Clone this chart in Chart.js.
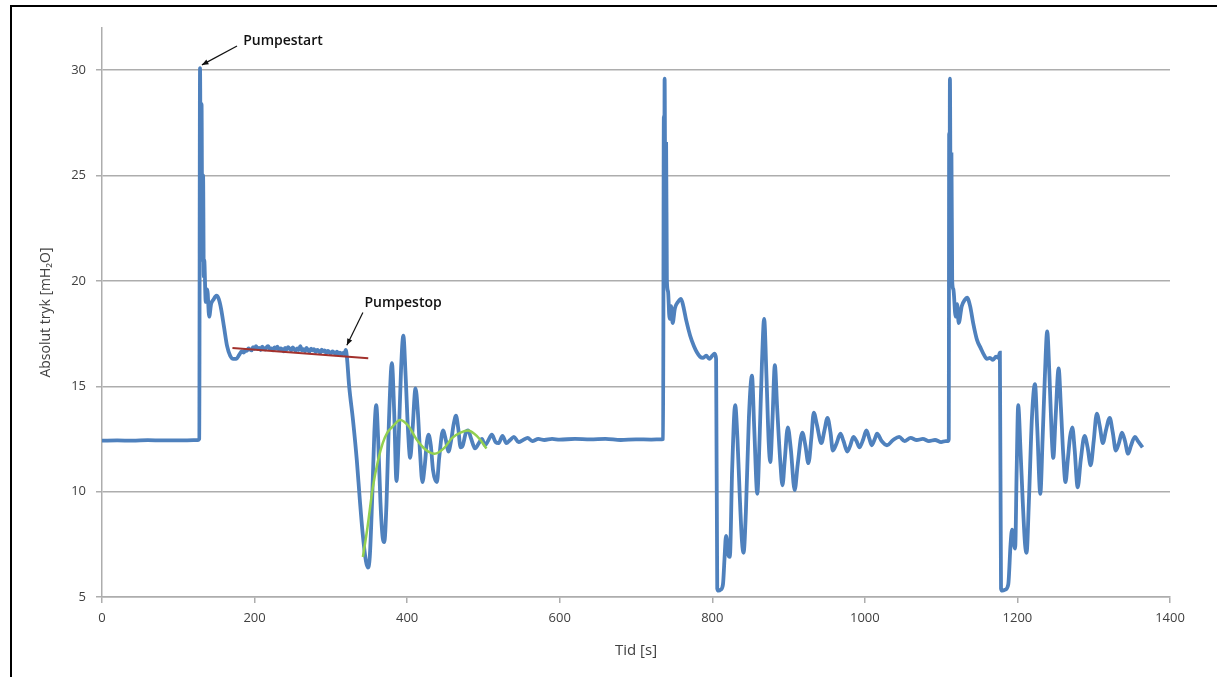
<!DOCTYPE html>
<html>
<head>
<meta charset="utf-8">
<script src="https://cdn.jsdelivr.net/npm/chart.js@4.4.1/dist/chart.umd.min.js"></script>
<style>
  html, body { margin: 0; padding: 0; background: #fff; }
  #wrap { position: relative; width: 1217px; height: 677px; overflow: hidden; }
  #frame {
    position: absolute; left: 10px; top: 5px; width: 1400px; height: 900px;
    border: 2px solid #000; pointer-events: none;
  }
</style>
</head>
<body>
<div id="wrap">
  <canvas id="pressureChart" width="1217" height="677"></canvas>
  <div id="frame"></div>
</div>
<script>
// ========== Data ==========
// Measured absolute pressure, time [s] / pressure [mH2O]
const pressureTime = [
  0, 20, 40, 60, 80, 100, 120, 126,
  127.5, 128.5, 129.5, 130.5, 131.5, 132.5, 133.5, 134, 136, 138, 140.5, 143, 146, 150, 153, 156, 160, 164, 168, 172, 176, 180, 183,
  186, 188, 190, 192, 194, 196, 198, 200, 202, 204, 206, 208, 210, 212, 214, 216, 218, 220, 222, 224, 226, 228, 230, 232, 234, 236, 238, 240, 242, 244, 246, 248, 250, 252,
  254, 256, 258, 260, 262, 264, 266, 268, 270, 272, 274, 276, 278, 280, 282, 284, 286, 288, 290, 292, 294, 296, 298, 300, 302, 304, 306, 308, 310, 312, 314, 316, 318, 319.5, 321,
  324, 329, 334, 338, 342, 346, 348.5, 351, 354, 357, 359.5, 362, 365, 368, 370, 373, 376, 380, 383, 386, 389, 392, 395, 398, 401, 404, 407, 411, 414, 417, 420, 423, 426, 428, 431, 434, 439, 442, 447, 451, 454, 458, 461, 464, 467, 470, 473, 477, 480, 484, 489, 494, 498, 502, 506, 511, 516, 520, 525, 530, 535, 540, 546, 552, 558, 564, 572, 580, 590, 600, 620, 640, 660, 680, 700, 720, 734,
  735.5, 736.5, 737, 737.5, 738.5, 739.5, 740.5, 742, 744, 746, 748, 751, 755, 759, 762, 766, 771, 776, 780, 784, 788, 792, 796, 800, 803, 805,
  806.5, 808, 811, 814, 816, 818, 819.5, 821, 823, 826, 830, 833, 836, 839, 841, 844, 848, 852, 855, 859, 862, 865, 868, 871, 874, 876, 879, 882, 885, 889, 892, 895, 899, 903, 908, 912, 918, 922, 926, 930, 933, 937, 943, 947, 951, 955, 958, 963, 968, 972, 977, 981, 985, 989, 993, 998, 1002, 1006, 1009, 1013, 1016, 1022, 1029, 1037, 1045, 1052, 1060, 1068, 1076, 1084, 1092, 1100, 1106, 1109,
  1110, 1110.5, 1111, 1111.5, 1112.5, 1113.5, 1114.5, 1116, 1119, 1121, 1123, 1127, 1131, 1134, 1138, 1142, 1147, 1152, 1156, 1160, 1164, 1168, 1172, 1175, 1177,
  1178.5, 1180, 1184, 1188, 1191, 1193, 1195, 1197, 1199, 1201, 1204, 1207, 1210, 1212, 1215, 1219, 1223, 1226, 1230, 1233, 1236, 1239, 1242, 1245, 1247, 1250, 1254, 1257, 1260, 1263, 1266, 1269, 1272, 1275, 1279, 1283, 1288, 1292, 1296, 1300, 1304, 1308, 1312, 1316, 1321, 1325, 1329, 1333, 1337, 1341, 1345, 1349, 1354, 1358, 1364
];
const pressureValue = [
  12.42, 12.43, 12.42, 12.44, 12.43, 12.43, 12.44, 12.45,
  12.5, 30.1, 24, 28.4, 21, 25, 20.2, 21, 19.0, 19.6, 18.3, 18.9, 19.1, 19.3, 19.15, 18.7, 17.8, 16.9, 16.45, 16.3, 16.3, 16.5, 16.65,
  16.6, 16.72, 16.68, 16.8, 16.74, 16.7, 16.85, 16.78, 16.9, 16.76, 16.82, 16.72, 16.88, 16.8, 16.74, 16.86, 16.9, 16.76, 16.8, 16.7, 16.84, 16.78, 16.88, 16.72, 16.8, 16.76, 16.66, 16.82, 16.74, 16.86, 16.78, 16.7, 16.84, 16.76,
  16.68, 16.8, 16.72, 16.9, 16.7, 16.76, 16.66, 16.82, 16.72, 16.64, 16.78, 16.7, 16.76, 16.62, 16.72, 16.68, 16.58, 16.74, 16.66, 16.7, 16.56, 16.68, 16.62, 16.54, 16.66, 16.6, 16.52, 16.64, 16.56, 16.6, 16.5, 16.58, 16.52, 16.72, 16.4,
  15.0, 13.4, 11.5, 9.6, 7.9, 6.7, 6.4, 6.9, 9.5, 12.8, 14.1, 12.5, 9.5, 7.8, 7.6, 9.5, 13.2, 16.1, 13.8, 10.5, 12.6, 15.8, 17.4, 15.5, 13.0, 11.6, 12.9, 14.9, 13.8, 11.8, 10.45, 11.2, 12.4, 12.7, 12.2, 11.0, 10.45, 11.6, 12.9, 12.4, 11.9, 12.5, 13.2, 13.6, 13.0, 12.1, 12.2, 12.8, 12.9, 12.5, 12.05, 12.3, 12.5, 12.2, 12.4, 12.7, 12.35, 12.3, 12.65, 12.3, 12.45, 12.6, 12.35, 12.45, 12.55, 12.4, 12.5, 12.45, 12.5, 12.47, 12.5, 12.48, 12.5, 12.45, 12.48, 12.47, 12.48,
  12.5, 27.8, 21, 29.6, 23, 26.5, 20.0, 19.5, 18.2, 18.8, 18.0, 18.7, 19.0, 19.15, 18.8, 18.1, 17.4, 16.9, 16.6, 16.4, 16.35, 16.45, 16.3, 16.45, 16.55, 16.3,
  5.4, 5.3, 5.35, 5.6, 6.8, 7.9, 7.6, 7.0, 6.9, 11.0, 14.1, 12.5, 9.8, 7.6, 7.1, 9.0, 13.5, 15.5, 13.0, 9.9, 12.5, 16.0, 18.2, 15.5, 12.3, 11.4, 13.5, 16.0, 14.0, 11.5, 10.3, 11.5, 13.05, 12.0, 10.07, 11.3, 12.8, 12.2, 11.35, 12.6, 13.75, 13.2, 12.3, 12.9, 13.5, 12.8, 11.95, 12.3, 12.75, 12.4, 11.9, 12.2, 12.6, 12.4, 12.1, 12.5, 12.9, 12.5, 12.2, 12.5, 12.75, 12.4, 12.2, 12.45, 12.6, 12.4, 12.55, 12.45, 12.5, 12.4, 12.45, 12.35, 12.4, 12.4,
  12.5, 27.0, 21, 29.6, 23, 26, 20, 19.6, 18.3, 18.9, 18.0, 18.8, 19.1, 19.2, 18.8, 18.0, 17.2, 16.8, 16.5, 16.3, 16.35, 16.25, 16.4, 16.35, 16.6,
  5.4, 5.3, 5.35, 5.6, 7.5, 8.2, 7.6, 7.3, 11.0, 14.1, 12.0, 9.5, 7.5, 7.1, 9.5, 13.5, 15.1, 13.0, 9.9, 12.5, 15.5, 17.6, 15.5, 12.6, 11.6, 13.5, 15.85, 14.0, 11.8, 10.45, 11.5, 12.6, 13.05, 12.0, 10.2, 11.5, 12.65, 12.1, 11.25, 12.4, 13.7, 13.1, 12.3, 12.9, 13.5, 12.8, 11.95, 12.3, 12.8, 12.4, 11.8, 12.2, 12.6, 12.4, 12.1
];

// Linear trend during pump operation (red)
const trendTime = [171, 349];
const trendValue = [16.82, 16.33];

// Damped oscillation fit after pump stop (green)
const fitTime = [342, 348, 355, 362, 368, 374, 380, 391, 402, 412, 424, 436, 448, 459, 470, 480, 488, 495, 504];
const fitValue = [6.9, 8.3, 10.2, 11.5, 12.3, 12.8, 13.05, 13.4, 13.1, 12.5, 12.0, 11.8, 12.05, 12.55, 12.8, 12.9, 12.75, 12.5, 12.05];

// Axis ticks
const yMin = 5, yMax = 32, yStep = 5;
const xMin = 0, xMax = 1400, xStep = 200;

// Text annotations with arrows (data coordinates)
const noteLabels = ['Pumpestart', 'Pumpestop'];
const noteTextAt = [[185, 31.37], [344, 18.97]];
const noteArrowFrom = [[177, 31.15], [342, 18.5]];
const noteArrowTo = [[131, 30.25], [321, 16.95]];

// ========== Helpers ==========
function toPoints(xs, ys) {
  return xs.map((x, i) => ({ x: x, y: ys[i] }));
}

const GRID = '#ADADAD';
const TEXT = '#404040';
const FONT = '"Open Sans", Lato, sans-serif';

// Draw the "Pumpestart"/"Pumpestop" callouts
const annotationPlugin = {
  id: 'callouts',
  afterDatasetsDraw(chart) {
    const { ctx, scales: { x, y } } = chart;
    ctx.save();
    ctx.strokeStyle = '#111';
    ctx.fillStyle = '#111';
    ctx.lineWidth = 1.2;
    ctx.font = '600 14px ' + FONT;
    ctx.textBaseline = 'middle';
    noteLabels.forEach((label, i) => {
      const tx = x.getPixelForValue(noteTextAt[i][0]);
      const ty = y.getPixelForValue(noteTextAt[i][1]);
      ctx.fillText(label, tx, ty);

      const x1 = x.getPixelForValue(noteArrowFrom[i][0]);
      const y1 = y.getPixelForValue(noteArrowFrom[i][1]);
      const x2 = x.getPixelForValue(noteArrowTo[i][0]);
      const y2 = y.getPixelForValue(noteArrowTo[i][1]);
      ctx.beginPath();
      ctx.moveTo(x1, y1);
      ctx.lineTo(x2, y2);
      ctx.stroke();

      // arrow head
      const ang = Math.atan2(y2 - y1, x2 - x1);
      const len = 7;
      ctx.beginPath();
      ctx.moveTo(x2, y2);
      ctx.lineTo(x2 - len * Math.cos(ang - 0.4), y2 - len * Math.sin(ang - 0.4));
      ctx.lineTo(x2 - len * Math.cos(ang + 0.4), y2 - len * Math.sin(ang + 0.4));
      ctx.closePath();
      ctx.fill();
    });
    ctx.restore();
  }
};

const ctx = document.getElementById('pressureChart');

new Chart(ctx, {
  type: 'line',
  data: {
    datasets: [
      {
        label: 'Tryk',
        data: toPoints(pressureTime, pressureValue),
        borderColor: '#4F81BD',
        borderWidth: 3.8,
        pointRadius: 0,
        cubicInterpolationMode: 'monotone',
        order: 3
      },
      {
        label: 'Trend',
        data: toPoints(trendTime, trendValue),
        borderColor: '#A3312C',
        borderWidth: 2,
        pointRadius: 0,
        order: 1
      },
      {
        label: 'Fit',
        data: toPoints(fitTime, fitValue),
        borderColor: '#92D050',
        borderWidth: 2.5,
        pointRadius: 0,
        cubicInterpolationMode: 'monotone',
        order: 2
      }
    ]
  },
  options: {
    responsive: false,
    animation: false,
    layout: { padding: { left: 30, top: 28, right: 47, bottom: 0 } },
    plugins: {
      legend: { display: false },
      tooltip: { enabled: false }
    },
    scales: {
      x: {
        type: 'linear',
        min: xMin,
        max: xMax,
        afterFit(scale) { scale.height = 80; },
        ticks: {
          stepSize: xStep,
          color: TEXT,
          padding: 7,
          maxRotation: 0,
          font: { family: FONT, size: 13 },
          callback: (v) => String(v)
        },
        grid: {
          drawOnChartArea: false,
          drawTicks: true,
          tickLength: 6,
          color: GRID,
          lineWidth: 1.5
        },
        border: { color: GRID, width: 1.5 },
        title: {
          display: true,
          text: 'Tid [s]',
          color: TEXT,
          font: { family: FONT, size: 15 },
          padding: { top: 4, bottom: 17 }
        }
      },
      y: {
        min: yMin,
        max: yMax,
        afterFit(scale) { scale.width = 72; },
        ticks: {
          stepSize: yStep,
          includeBounds: false,
          color: TEXT,
          padding: 10,
          font: { family: FONT, size: 13 },
          callback: (v) => String(v)
        },
        grid: {
          color: GRID,
          lineWidth: 1.5,
          tickLength: 6
        },
        border: { color: GRID, width: 1.5 },
        title: {
          display: true,
          text: 'Absolut tryk [mH₂O]',
          color: TEXT,
          font: { family: FONT, size: 14 },
          padding: { top: 8, bottom: 4 }
        }
      }
    }
  },
  plugins: [annotationPlugin]
});
</script>
</body>
</html>
